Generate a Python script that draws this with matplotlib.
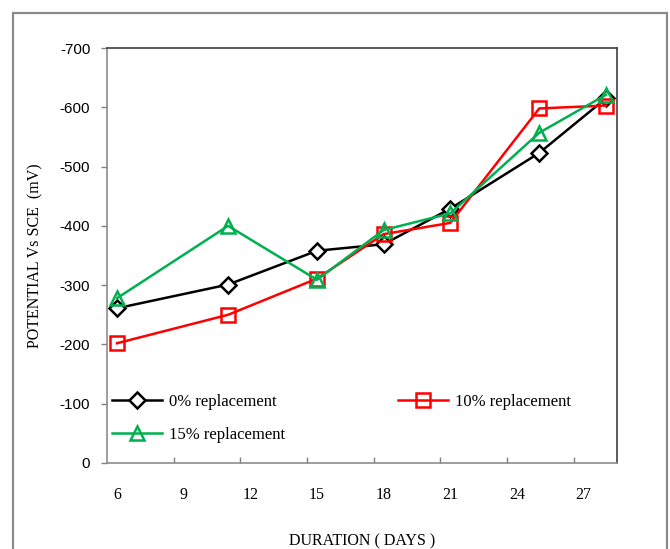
import numpy as np
import matplotlib
matplotlib.use('Agg')
from matplotlib import pyplot as plt
from matplotlib.patches import Rectangle

# data (potential magnitude, mV)
days = [6, 11, 15, 18, 21, 25, 28]
rep_0 = [261, 301, 358, 369, 429, 523, 615]
rep_10 = [202, 250, 311, 386, 405, 598, 603]
rep_15 = [278, 400, 309, 393, 421, 557, 621]

x_ticks = [6, 9, 12, 15, 18, 21, 24, 27]
y_ticks = [0, 100, 200, 300, 400, 500, 600, 700]
y_labels = ['0', '-100', '-200', '-300', '-400', '-500', '-600', '-700']

serif = ['Liberation Serif', 'DejaVu Serif']
narrow = ['Liberation Sans Narrow', 'Liberation Sans', 'DejaVu Sans']

fig = plt.figure(figsize=(6.7, 5.49), dpi=100)
# outer grey frame of the chart area
fig.patches.append(Rectangle((13 / 670, -0.05), 654 / 670, 1.05 - 13 / 549,
                             transform=fig.transFigure, fill=False,
                             edgecolor='#8a8a8a', lw=1.6))

ax = fig.add_axes([107 / 670, 86 / 549, 510 / 670, 415 / 549])

h0, = ax.plot(days, rep_0, color='black', lw=1.8, marker='D', ms=8,
              mfc='white', mec='black', mew=1.8, label='0% replacement')
h10, = ax.plot(days, rep_10, color='#ff0000', lw=1.8, marker='s', ms=9.5,
               mfc='none', mec='#ff0000', mew=1.8, label='10% replacement')
h15, = ax.plot(days, rep_15, color='#00b050', lw=1.8, marker='^', ms=9.5,
               mfc='none', mec='#00b050', mew=1.8, label='15% replacement')

ax.set_xlim(5.55, 28.5)
ax.set_ylim(0, 700)

# labels sit between the tick marks, like the Excel original
ax.set_xticks(x_ticks)
ax.set_xticklabels([str(v) for v in x_ticks], fontfamily=serif, fontsize=11.5)
ax.set_xticks([5.55 + 3 * k for k in range(1, 8)], minor=True)
ax.tick_params(axis='x', which='major', length=0, pad=17)
ax.tick_params(axis='x', which='minor', direction='in', length=4,
               color='#808080', width=1)

ax.set_yticks(y_ticks)
ax.set_yticklabels(y_labels, fontfamily=narrow, fontsize=11)
ax.tick_params(axis='y', direction='out', length=4, color='#808080',
               width=1, pad=8)

ax.spines['left'].set_color('#8c8c8c')
ax.spines['bottom'].set_color('#8c8c8c')
ax.spines['top'].set_color('#404040')
ax.spines['right'].set_color('#404040')
for s in ax.spines.values():
    s.set_linewidth(1.2)

ax.set_ylabel('POTENTIAL Vs SCE  (mV)', fontfamily=serif, fontsize=11.5,
              labelpad=12)
ax.set_xlabel('DURATION ( DAYS )', fontfamily=serif, fontsize=11.5,
              labelpad=22)

ax.legend(handles=[h0, h15, h10], ncol=2, loc='lower left',
          bbox_to_anchor=(-0.01, 0.025, 1.0, 0.2), frameon=False,
          prop={'family': serif, 'size': 12}, handlelength=3,
          handletextpad=0.4, columnspacing=6.8, labelspacing=1.0,
          borderaxespad=0.2)

fig.savefig('out.png', dpi=100)
